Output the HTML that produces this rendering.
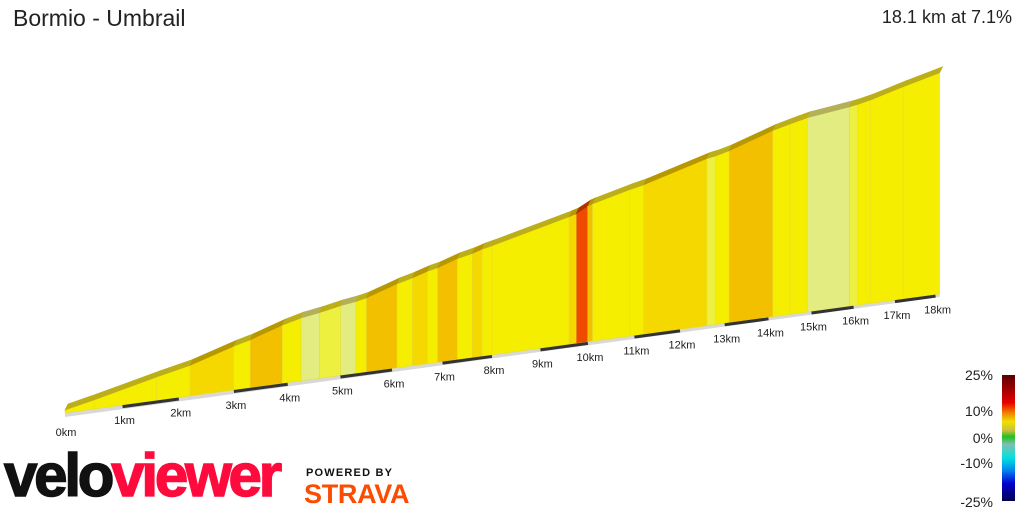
<!DOCTYPE html>
<html><head><meta charset="utf-8">
<style>
body{margin:0;background:#fff;width:1024px;height:512px;overflow:hidden;position:relative;font-family:"Liberation Sans",sans-serif}
.t{position:absolute;color:#222}
</style></head><body>
<div class="t" style="left:13px;top:5px;font-size:23px;">Bormio - Umbrail</div>
<div class="t" style="right:12px;top:7px;font-size:18px;">18.1 km at 7.1%</div>
<svg id="chart" width="1024" height="512" style="position:absolute;left:0;top:0"></svg>
<div>
<div class="t" style="right:31px;top:367px;font-size:14px">25%</div>
<div class="t" style="right:31px;top:403px;font-size:14px">10%</div>
<div class="t" style="right:31px;top:430px;font-size:14px">0%</div>
<div class="t" style="right:31px;top:455px;font-size:14px">-10%</div>
<div class="t" style="right:31px;top:494px;font-size:14px">-25%</div>
<div style="position:absolute;left:1002px;top:375px;width:13px;height:126px;background:linear-gradient(#5a0000 0%,#b00000 14%,#e80000 22%,#f08000 30%,#f0e000 37%,#c8c040 44%,#20c020 49%,#80c0b0 55%,#00e0e0 66%,#0080f0 76%,#0000d0 86%,#000050 100%)"></div>
</div>
<div style="position:absolute;left:4px;top:446px;font-size:60px;font-weight:900;letter-spacing:-3.2px;line-height:60px;font-family:'Liberation Sans',sans-serif;-webkit-text-stroke:1.5px currentColor"><span style="color:#111">velo</span><span style="color:#ff0a3c">viewer</span></div>
<div class="t" style="left:306px;top:467px;font-size:11px;font-weight:bold;letter-spacing:1.2px;color:#111">POWERED BY</div>
<div class="t" style="left:304px;top:479px;font-size:27px;font-weight:900;color:#fc4c02;letter-spacing:-0.3px">STRAVA</div>
<script>
const segStart=[0,0.5,1.6,2.2,3.0,3.3,3.9,4.25,4.6,5.0,5.3,5.5,6.1,6.4,6.7,6.9,7.3,7.6,7.8,8.0,9.6,9.75,10.0,10.1,10.9,11.2,12.6,12.8,13.1,14.1,14.5,14.9,15.9,16.1,16.4,17.2];
const segEnd=[0.5,1.6,2.2,3.0,3.3,3.9,4.25,4.6,5.0,5.3,5.5,6.1,6.4,6.7,6.9,7.3,7.6,7.8,8.0,9.6,9.75,10.0,10.1,10.9,11.2,12.6,12.8,13.1,14.1,14.5,14.9,15.9,16.1,16.4,17.2,18.1];
const segGrade=[6,6.5,6,8.5,7,9,7,4.5,5.5,4,6,9,7,8.5,6,9,6,8.5,6,6.8,8,14,9,7,6,7.8,5,7,9,7,6.5,4,5,6,7.5,7];
const kmTicks=[0,1,2,3,4,5,6,7,8,9,10,11,12,13,14,15,16,17,18];
const svg=document.getElementById('chart');
const NS='http://www.w3.org/2000/svg';
const C=0.0113,K=58.2,KPX=0.206;
function X(d){return 65+K*d/(1+C*d);}
function B(d){return 413-0.136*(X(d)-65);}
function T(d,e){return B(d)-3-e*KPX/(1+C*d);}
function col(g){if(g<4.6)return'#e2ec80';if(g<5.6)return'#eef040';if(g<7.6)return'#f5ee00';if(g<8.6)return'#f5d800';if(g<10)return'#f3c000';if(g<12)return'#f09000';return'#ee4a00';}
function dark(g){if(g<4.6)return'#b4b058';if(g<7.6)return'#bcae18';if(g<10)return'#b89800';return'#b03000';}
function mk(tag,attrs){const el=document.createElementNS(NS,tag);for(const k in attrs)el.setAttribute(k,attrs[k]);svg.appendChild(el);return el;}
let gx0=X(0),gx1=X(18.1);
const strip=mk('polygon',{points:`${gx0},${B(0)} ${gx1},${B(18.1)} ${gx1},${B(18.1)+3} ${gx0},${B(0)+4}`,fill:'#d8d8d8'});


let elev=0;
for(let i=0;i<segStart.length;i++){
  const d0=segStart[i],d1=segEnd[i];
  const e0=elev,e1=elev+(d1-d0)*1000*segGrade[i]/100;elev=e1;
  const x0=X(d0),x1=X(d1);
  const t0=T(d0,e0),t1=T(d1,e1);
  const face=mk('polygon',{points:`${x0},${B(d0)} ${x0},${t0} ${x1},${t1} ${x1},${B(d1)}`,fill:col(segGrade[i]),stroke:'#e6dc30','stroke-width':0.5});
  
  
  const top=mk('polygon',{points:`${x0},${t0} ${x0+3},${t0-6} ${x1+3},${t1-6} ${x1},${t1}`,fill:dark(segGrade[i]),stroke:dark(segGrade[i]),'stroke-width':0.6});
  
  
}
for(let k=1;k<18;k+=2){
  const ln=mk('line',{x1:X(k),y1:B(k)+1.5,x2:X(k+1),y2:B(k+1)+1.5,stroke:'#333','stroke-width':3});
  
  
}
kmTicks.forEach(k=>{
  const t=mk('text',{x:X(k)+(k==0?1:2),y:B(k)+(k==0?23:19),'text-anchor':'middle','font-size':11,fill:'#222','font-family':'Liberation Sans, sans-serif'});
  t.textContent=k+'km';
  
  
});
</script>
</body></html>
